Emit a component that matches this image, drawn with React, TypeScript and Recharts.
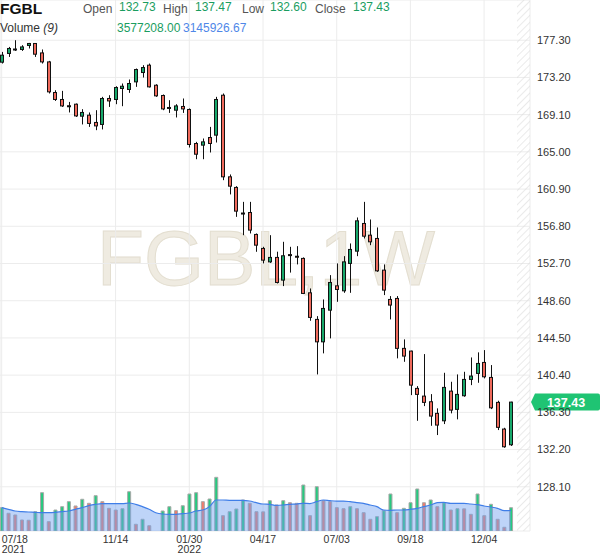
import React from 'react';
import {
  ComposedChart,
  Bar,
  Area,
  XAxis,
  YAxis,
  CartesianGrid,
  ReferenceArea,
  ReferenceLine,
  Cell,
} from 'recharts';

// ---- weekly candles (index 0 = week of 07/18/2021) ----
const opens = [
  174.88, 175.84, 176.28, 176.28, 176.72, 176.94, 175.9, 174.91, 171.54, 170.77,
  170.08, 170.25, 168.93, 169.04, 168.24, 168.02, 170.88, 170.77, 171.98, 171.87,
  172.71, 173.74, 174.55, 172.34, 171.21, 169.89, 169.59, 170.0, 169.67, 165.92,
  165.74, 166.58, 166.84, 171.24, 162.25, 161.08, 158.26, 158.32, 155.9, 154.36,
  152.88, 153.37, 150.87, 153.68, 153.5, 153.26, 149.47, 146.54, 144.07, 147.56,
  150.24, 149.69, 152.71, 154.06, 157.11, 155.82, 155.46, 151.97, 148.74, 148.85,
  143.35, 143.05, 138.94, 138.09, 137.47, 136.19, 135.37, 138.64, 136.63, 138.13,
  139.93, 140.59, 141.8, 140.15, 137.4, 134.46, 132.73,
];
const highs = [
  176.01, 176.56, 177.3, 176.75, 177.0, 176.97, 176.28, 175.02, 171.79, 171.72,
  170.5, 170.33, 169.7, 169.34, 169.59, 171.06, 171.24, 172.23, 172.53, 172.97,
  174.18, 174.55, 174.73, 172.45, 171.32, 170.69, 170.25, 170.88, 169.78, 166.1,
  166.47, 167.75, 171.06, 171.43, 162.51, 161.22, 159.49, 159.49, 156.01, 154.54,
  155.82, 154.0, 155.09, 154.54, 154.61, 153.37, 149.95, 146.9, 148.74, 151.42,
  152.71, 153.51, 154.91, 157.77, 159.49, 157.55, 156.67, 152.6, 149.11, 149.11,
  144.34, 143.1, 139.19, 142.72, 138.31, 136.74, 140.66, 139.67, 140.48, 140.77,
  142.35, 142.91, 143.16, 141.51, 137.58, 134.6, 137.47,
];
const lows = [
  174.73, 175.46, 176.12, 176.12, 176.39, 175.46, 174.73, 171.43, 170.61, 169.95,
  169.34, 168.85, 168.02, 167.75, 167.39, 167.47, 169.95, 170.25, 170.03, 171.5,
  172.16, 173.19, 172.09, 171.06, 169.59, 169.29, 168.79, 169.29, 165.48, 164.19,
  164.19, 164.93, 166.03, 161.88, 160.31, 157.84, 155.82, 156.01, 153.99, 152.71,
  152.77, 150.5, 150.21, 151.7, 152.6, 149.33, 146.39, 140.48, 142.8, 144.45,
  148.48, 149.47, 149.47, 153.51, 155.46, 154.72, 151.78, 149.22, 146.54, 142.25,
  141.87, 138.2, 135.37, 136.99, 134.82, 133.8, 135.01, 136.19, 135.53, 138.02,
  139.3, 139.56, 140.04, 136.66, 134.35, 132.4, 132.6,
];
const closes = [
  175.65, 176.39, 176.33, 176.56, 176.94, 175.76, 174.91, 171.61, 170.77, 170.06,
  170.04, 168.96, 169.34, 168.13, 167.86, 170.88, 170.61, 172.09, 172.23, 172.53,
  174.07, 174.29, 172.16, 171.17, 169.73, 169.78, 170.06, 169.73, 165.81, 164.74,
  166.1, 165.92, 170.77, 162.25, 161.22, 158.47, 158.2, 156.38, 154.72, 153.07,
  153.37, 150.61, 153.55, 153.62, 153.45, 149.4, 146.76, 144.07, 147.75, 150.61,
  149.84, 152.88, 154.25, 157.4, 155.71, 155.09, 151.89, 149.77, 148.12, 143.35,
  142.5, 139.3, 138.28, 137.4, 135.89, 134.9, 139.05, 136.55, 138.28, 139.93,
  140.3, 141.69, 140.22, 136.8, 134.65, 132.51, 137.43,
];
const volumes = [
  3580000, 2720000, 2460000, 1690000, 1650000, 2960000, 5880000, 1430000, 3220000, 3730000,
  4500000, 3840000, 4870000, 4250000, 5420000, 4500000, 3480000, 3220000, 3420000, 6030000,
  1030000, 1800000, 810000, 0, 3070000, 3730000, 3120000, 3880000, 5680000, 5880000,
  4500000, 4910000, 8240000, 2350000, 2960000, 3380000, 4760000, 4250000, 2960000, 2940000,
  4650000, 3990000, 4650000, 4340000, 4250000, 7060000, 2350000, 6800000, 4650000, 4500000,
  3580000, 3420000, 3730000, 3420000, 2810000, 1800000, 2200000, 3120000, 5680000, 2810000,
  3480000, 4340000, 6450000, 4340000, 4760000, 3730000, 4340000, 3220000, 3420000, 3400000,
  2560000, 5680000, 2350000, 4100000, 1800000, 570000, 3577208,
];
const volumeMA = [
  3580000, 3330000, 3070000, 2970000, 2920000, 2860000, 2810000, 2810000, 2860000, 2970000,
  3070000, 3330000, 3580000, 3890000, 4090000, 4200000, 4200000, 4200000, 4200000, 4300000,
  4090000, 3740000, 3330000, 2810000, 2610000, 2560000, 2560000, 2660000, 2760000, 3070000,
  3220000, 3740000, 4760000, 4760000, 4710000, 4710000, 4710000, 4600000, 4350000, 4140000,
  4090000, 3940000, 3990000, 4090000, 4140000, 4250000, 4200000, 4500000, 4760000, 4660000,
  4600000, 4600000, 4500000, 4350000, 4250000, 3990000, 3740000, 3220000, 3170000, 3220000,
  3220000, 3330000, 3480000, 3740000, 3990000, 4350000, 4400000, 4250000, 4250000, 4250000,
  4140000, 4040000, 3840000, 3680000, 3480000, 3120000, 3145926.67,
];

const xTickIndex = [0, 17, 28, 39, 50, 61, 72];
const xTickLabels = ['07/18', '11/14', '01/30', '04/17', '07/03', '09/18', '12/04'];
const xTickYears = ['2021', '', '2022', '', '', '', ''];
const yTicks = [177.3, 173.2, 169.1, 165.0, 160.9, 156.8, 152.7, 148.6, 144.5, 140.4, 136.3, 132.2, 128.1];

const X_DOMAIN: [number, number] = [-0.254, 78.85];
const PRICE_DOMAIN: [number, number] = [123.23, 181.73];
const VOL_DOMAIN: [number, number] = [0, 81500000];
const FUTURE_START = 76.91;

const GREEN = '#17a86b';
const RED = '#ef6a5c';
const VOL_GREEN = '#27c97f';
const VOL_RED = '#f07a6b';
const FONT = 'Arial, "Liberation Sans", Helvetica, sans-serif';

const data = opens.map((o, i) => ({
  i,
  open: o,
  high: highs[i],
  low: lows[i],
  close: closes[i],
  range: [lows[i], highs[i]],
  vol: volumes[i],
  ma: volumeMA[i],
}));

const volColors = volumes.map((v, i) => (i === 0 || v >= volumes[i - 1] ? VOL_GREEN : VOL_RED));

const Candle = (props: any) => {
  const { x, y, width, height, payload } = props;
  if (x == null || y == null) return null;
  const { open, close, high, low } = payload;
  const top = Math.min(y, y + height);
  const h = Math.abs(height);
  const span = high - low || 1;
  const py = (v: number) => top + ((high - v) / span) * h;
  const c = Math.round(x + width / 2);
  const up = close >= open;
  const bTop = py(Math.max(open, close));
  const bBot = py(Math.min(open, close));
  const bh = Math.max(bBot - bTop, 1);
  return (
    <g>
      <line x1={c + 0.5} x2={c + 0.5} y1={top} y2={top + h} stroke="#111" strokeWidth={1} />
      <rect x={c - 1.5} y={bTop} width={3} height={bh} fill={up ? GREEN : RED} stroke="#111" strokeWidth={1} />
    </g>
  );
};

const XTick = (props: any) => {
  const { x, y, payload } = props;
  const k = xTickIndex.indexOf(payload.value);
  if (k < 0) return null;
  const anchor = k === 0 ? 'start' : 'middle';
  return (
    <g>
      <text x={x} y={y + 11.5} textAnchor={anchor} fontSize={10.5} fill="#333" fontFamily={FONT}>
        {xTickLabels[k]}
      </text>
      {xTickYears[k] ? (
        <text x={x} y={y + 22} textAnchor={anchor} fontSize={10.5} fill="#333" fontFamily={FONT}>
          {xTickYears[k]}
        </text>
      ) : null}
    </g>
  );
};

const Badge = (props: any) => {
  const vb = props.viewBox || {};
  const right = (vb.x || 0) + (vb.width || 0);
  const cy = vb.y || 0;
  const h = 8.5;
  const d = `M ${right + 1} ${cy} L ${right + 5} ${cy - h} L 598 ${cy - h} Q 600 ${cy - h} 600 ${cy - h + 2} L 600 ${cy + h - 2} Q 600 ${cy + h} 598 ${cy + h} L ${right + 5} ${cy + h} Z`;
  return (
    <g>
      <path d={d} fill="#1fc473" />
      <text x={566} y={cy + 4.5} textAnchor="middle" fontSize={12.5} fontWeight="bold" fill="#fff" fontFamily={FONT}>
        {closes[closes.length - 1].toFixed(2)}
      </text>
    </g>
  );
};

const last = data.length - 1;

export default function App() {
  return (
    <div style={{ position: 'relative', width: 600, height: 558, overflow: 'hidden', background: '#fff' }}>
      <style>{`body{margin:0}`}</style>
      <svg width={600} height={558} style={{ position: 'absolute', left: 0, top: 0 }}>
        <text
          x={266}
          y={285}
          textAnchor="middle"
          fontSize={77}
          fontFamily={FONT}
          fill="#efebe1"
          stroke="#e3ded0"
          strokeWidth={1}
        >
          FGBL,1W
        </text>
      </svg>
      <div style={{ position: 'absolute', left: 0, top: 0 }}>
        <ComposedChart width={600} height={558} data={data} margin={{ top: 0, right: 0, bottom: 0, left: 0 }}>
          <defs>
            <pattern id="hatch" patternUnits="userSpaceOnUse" width="5" height="5" patternTransform="rotate(45)">
              <line x1="0" y1="0" x2="0" y2="5" stroke="#dcdcdc" strokeWidth="1.2" />
            </pattern>
          </defs>
          <CartesianGrid xAxisId="main" yAxisId="price" stroke="#ececec" />
          <XAxis
            xAxisId="main"
            dataKey="i"
            type="number"
            domain={X_DOMAIN}
            allowDataOverflow
            ticks={xTickIndex}
            interval={0}
            tick={<XTick />}
            tickLine={false}
            axisLine={false}
            tickSize={0}
            tickMargin={0}
            height={27}
          />
          <XAxis xAxisId="vol" dataKey="i" type="number" domain={X_DOMAIN} allowDataOverflow hide />
          <YAxis
            yAxisId="price"
            orientation="right"
            type="number"
            domain={PRICE_DOMAIN}
            allowDataOverflow
            ticks={yTicks}
            interval={0}
            width={70}
            tickLine={false}
            axisLine={false}
            tickSize={0}
            tickMargin={7}
            tick={{ fontSize: 11, fill: '#333', fontFamily: FONT }}
            tickFormatter={(v: number) => v.toFixed(2)}
          />
          <YAxis yAxisId="vol" type="number" domain={VOL_DOMAIN} allowDataOverflow hide />
          <ReferenceArea
            xAxisId="main"
            yAxisId="price"
            x1={FUTURE_START}
            x2={X_DOMAIN[1]}
            fill="url(#hatch)"
            fillOpacity={1}
            stroke="none"
            ifOverflow="visible"
          />
          <Bar xAxisId="vol" yAxisId="vol" dataKey="vol" barSize={3} stroke="#a8a8a8" strokeWidth={1} isAnimationActive={false}>
            {data.map((d, i) => (
              <Cell key={i} fill={volColors[i]} />
            ))}
          </Bar>
          <Area
            xAxisId="vol"
            yAxisId="vol"
            dataKey="ma"
            type="monotone"
            fill="#6f9ff0"
            fillOpacity={0.45}
            stroke="#3f7ee8"
            strokeWidth={1.2}
            dot={false}
            activeDot={false}
            isAnimationActive={false}
            zIndex={350}
          />
          <Bar
            xAxisId="main"
            yAxisId="price"
            dataKey="range"
            barSize={5}
            shape={<Candle />}
            isAnimationActive={false}
            zIndex={400}
          />
          <ReferenceLine
            xAxisId="main"
            yAxisId="price"
            y={closes[last]}
            stroke="none"
            label={<Badge />}
          />
        </ComposedChart>
      </div>
      <svg width={600} height={40} style={{ position: 'absolute', left: 0, top: 0, pointerEvents: 'none' }}>
        <g fontFamily={FONT}>
          <text x={0} y={14} fontSize={15.5} fontWeight="bold" fill="#111">FGBL</text>
          <text x={83} y={13} fontSize={12} fill="#555">Open</text>
          <text x={119} y={11} fontSize={12} fill="#1a9d5f">{opens[last].toFixed(2)}</text>
          <text x={163} y={13} fontSize={12} fill="#555">High</text>
          <text x={195} y={11} fontSize={12} fill="#1a9d5f">{highs[last].toFixed(2)}</text>
          <text x={242} y={13} fontSize={12} fill="#555">Low</text>
          <text x={270} y={11} fontSize={12} fill="#1a9d5f">{lows[last].toFixed(2)}</text>
          <text x={315} y={13} fontSize={12} fill="#555">Close</text>
          <text x={353} y={11} fontSize={12} fill="#1a9d5f">{closes[last].toFixed(2)}</text>
          <text x={0} y={32} fontSize={12} fill="#333">
            Volume <tspan fontStyle="italic">(9)</tspan>
          </text>
          <text x={117} y={31.5} fontSize={12} fill="#1a9d5f">{volumes[last].toFixed(2)}</text>
          <text x={183} y={31.5} fontSize={12} fill="#4f87e8">{volumeMA[last].toFixed(2)}</text>
        </g>
      </svg>
    </div>
  );
}
